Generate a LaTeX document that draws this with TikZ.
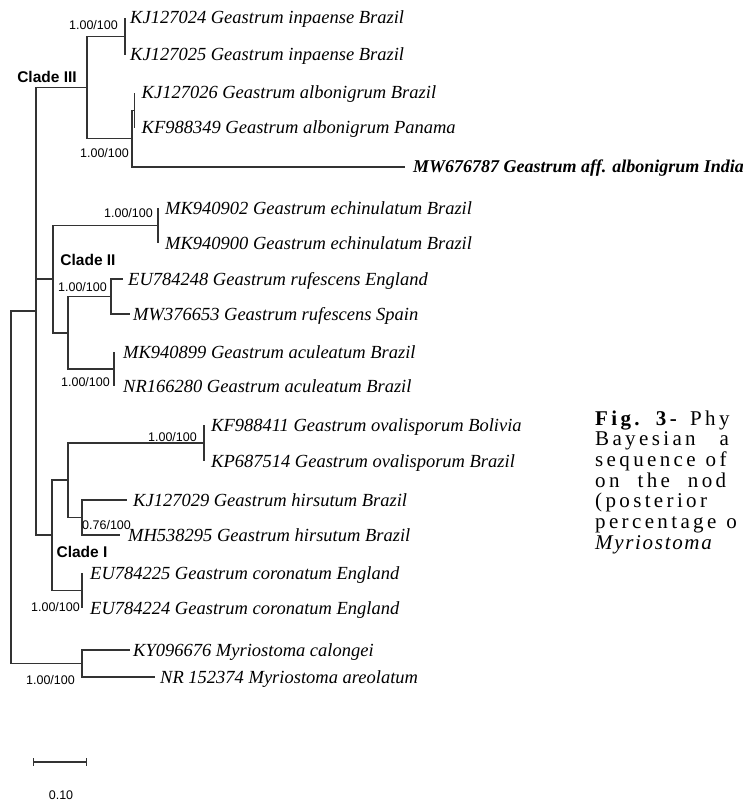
\documentclass[tikz,border=0pt]{standalone}
\usepackage{fontspec}
\setmainfont{Liberation Serif}
\setsansfont{Liberation Sans}
\newfontfamily\capfont[LetterSpace=16]{Liberation Serif}
\usetikzlibrary{positioning}

\tikzset{
    branch/.style={line width=1.2pt, draw=black!80},
    leaf/.style={anchor=west, inner sep=0pt, text height=12pt, text depth=0pt,
        font=\fontsize{18.5}{18.5}\selectfont\itshape},
    supp/.style={inner sep=0pt, text height=9pt, text depth=0pt,
        font=\sffamily\fontsize{12.5}{12.5}\selectfont},
    clade/.style={inner sep=0pt, text height=11pt, text depth=0pt,
        font=\sffamily\bfseries\fontsize{15.5}{15.5}\selectfont},
    capline/.style={anchor=west, inner sep=0pt, text height=14pt, text depth=0pt,
        font=\capfont\fontsize{21}{21}\selectfont,
        execute at begin node={\spaceskip=10pt\relax}},
}

\begin{document}
\begin{tikzpicture}[x=1pt, y=-1pt]
        \useasboundingbox (0,0) rectangle (743,805);

        % internal nodes
        \coordinate (root) at (11,487);
        \coordinate (top) at (36,311);
        \coordinate (c3) at (87,87.5);
        \coordinate (inp) at (125,36.5);
        \coordinate (albmw) at (132,138.5);
        \coordinate (alb) at (134.5,110.5);
        \coordinate (c2) at (53,279);
        \coordinate (echi) at (158,225.5);
        \coordinate (rufacu) at (68,333);
        \coordinate (ruf) at (111,296.5);
        \coordinate (acu) at (114,369);
        \coordinate (c1) at (52,535);
        \coordinate (ovhi) at (68,480);
        \coordinate (oval) at (204,443);
        \coordinate (hirs) at (82,517.5);
        \coordinate (coro) at (82,590.5);
        \coordinate (myrio) at (82,663.5);

        % branch tips
        \coordinate (t024) at (125,18);
        \coordinate (t025) at (125,55);
        \coordinate (t026) at (134.5,93);
        \coordinate (t349) at (134.5,128);
        \coordinate (t787) at (405,167);
        \coordinate (t902) at (158,208);
        \coordinate (t900) at (158,243);
        \coordinate (t248) at (123,279);
        \coordinate (t653) at (130,314);
        \coordinate (t899) at (114,352);
        \coordinate (t280) at (114,386);
        \coordinate (t411) at (204,425);
        \coordinate (t514) at (204,461);
        \coordinate (t029) at (127,500);
        \coordinate (t295) at (120,535);
        \coordinate (t225) at (82,573);
        \coordinate (t224) at (82,608);
        \coordinate (t676) at (130,650);
        \coordinate (t374) at (155,677);

        \draw[branch]
            (root) |- (top)
            (root) |- (myrio)
            (top) |- (c3)
            (top) |- (c2)
            (top) |- (c1)

            (c3) |- (inp)
            (c3) |- (albmw)
            (inp) |- (t024)
            (inp) |- (t025)
            (albmw) |- (alb)
            (albmw) |- (t787)
            (alb) |- (t026)
            (alb) |- (t349)

            (c2) |- (echi)
            (c2) |- (rufacu)
            (echi) |- (t902)
            (echi) |- (t900)
            (rufacu) |- (ruf)
            (rufacu) |- (acu)
            (ruf) |- (t248)
            (ruf) |- (t653)
            (acu) |- (t899)
            (acu) |- (t280)

            (c1) |- (ovhi)
            (c1) |- (coro)
            (ovhi) |- (oval)
            (ovhi) |- (hirs)
            (oval) |- (t411)
            (oval) |- (t514)
            (hirs) |- (t029)
            (hirs) |- (t295)
            (coro) |- (t225)
            (coro) |- (t224)

            (myrio) |- (t676)
            (myrio) |- (t374)
            ;

        % taxa
        \node[leaf, right=5pt of t024] (kj024) {KJ127024 Geastrum inpaense Brazil};
        \node[leaf, right=5pt of t025] (kj025) {KJ127025 Geastrum inpaense Brazil};
        \node[leaf, right=7pt of t026] (kj026) {KJ127026 Geastrum albonigrum Brazil};
        \node[leaf, right=7pt of t349] (kf349) {KF988349 Geastrum albonigrum Panama};
        \node[leaf, right=8pt of t787, font=\fontsize{18}{18}\selectfont\bfseries\itshape] (mw787) {MW676787 Geastrum aff. albonigrum India};
        \node[leaf, right=7pt of t902] (mk902) {MK940902 Geastrum echinulatum Brazil};
        \node[leaf, right=7pt of t900] (mk900) {MK940900 Geastrum echinulatum Brazil};
        \node[leaf, right=5pt of t248] (eu248) {EU784248 Geastrum rufescens England};
        \node[leaf, right=3pt of t653] (mw653) {MW376653 Geastrum rufescens Spain};
        \node[leaf, right=9pt of t899] (mk899) {MK940899 Geastrum aculeatum Brazil};
        \node[leaf, right=9pt of t280] (nr280) {NR166280 Geastrum aculeatum Brazil};
        \node[leaf, right=7pt of t411] (kf411) {KF988411 Geastrum ovalisporum Bolivia};
        \node[leaf, right=7pt of t514] (kp514) {KP687514 Geastrum ovalisporum Brazil};
        \node[leaf, right=6pt of t029] (kj029) {KJ127029 Geastrum hirsutum Brazil};
        \node[leaf, right=8pt of t295] (mh295) {MH538295 Geastrum hirsutum Brazil};
        \node[leaf, right=8pt of t225] (eu225) {EU784225 Geastrum coronatum England};
        \node[leaf, right=8pt of t224] (eu224) {EU784224 Geastrum coronatum England};
        \node[leaf, right=3pt of t676] (ky676) {KY096676 Myriostoma calongei};
        \node[leaf, right=5pt of t374] (nr374) {NR 152374 Myriostoma areolatum};

        % support values
        \node[supp, anchor=east] (sinp) at (118,25) {1.00/100};
        \node[supp, anchor=east] (salbmw) at (129,153) {1.00/100};
        \node[supp, anchor=east] (sechi) at (153,213) {1.00/100};
        \node[supp, anchor=east] (sruf) at (107,287) {1.00/100};
        \node[supp, anchor=east] (sacu) at (110,382) {1.00/100};
        \node[supp, anchor=east] (soval) at (197,437) {1.00/100};
        \node[supp, anchor=west] (shirs) at (82,525) {0.76/100};
        \node[supp, anchor=east] (scoro) at (80,607) {1.00/100};
        \node[supp, anchor=east] (smyrio) at (75,680) {1.00/100};

        % clades
        \node[clade] (cl3) at (47,77) {Clade III};
        \node[clade] (cl2) at (88,260) {Clade II};
        \node[clade] (cl1) at (82,552) {Clade I};

        % scale
        \coordinate (sb1) at (33,762);
        \coordinate (sb2) at (87,762);
        \draw[branch, |-|] (sb1) -- (sb2);
        \node[supp] (sblab) at (61,795) {0.10};

        % caption
        \node[capline] (cap1) at (595,418) {\textbf{Fig.} \textbf{3-} Phy};
        \node[capline] (cap2) at (595,438.7) {Bayesian\hspace{14pt} a};
        \node[capline] (cap3) at (595,459.4) {sequence of};
        \node[capline] (cap4) at (595,480.1) {on\hspace{8pt} the\hspace{8pt} nod};
        \node[capline] (cap5) at (595,500.8) {(posterior};
        \node[capline] (cap6) at (595,521.5) {percentage o};
        \node[capline] (cap7) at (595,542.2) {\addfontfeatures{LetterSpace=8}\itshape Myriostoma};

    \end{tikzpicture}
\end{document}
